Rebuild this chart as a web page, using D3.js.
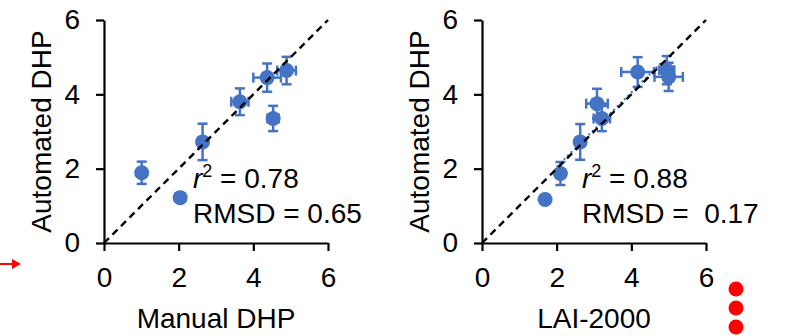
<!DOCTYPE html>
<html>
<head>
<meta charset="utf-8">
<script src="https://cdn.jsdelivr.net/npm/d3@7"></script>
<style>
  body { margin: 0; background: #fff; }
  svg { display: block; font-family: "Liberation Sans", Arial, sans-serif; }
</style>
</head>
<body>
<div class="container"></div>
<script>
// left panel: manual DHP vs automated DHP
var manualX    = [1.01, 2.04, 2.64, 3.64, 4.53, 4.37, 4.89];
var manualXErr = [0.05, 0.12, 0.12, 0.23, 0.15, 0.37, 0.25];
var manualY    = [1.89, 1.22, 2.72, 3.80, 3.35, 4.45, 4.64];
var manualYErr = [0.30, 0.08, 0.49, 0.36, 0.34, 0.38, 0.37];

// right panel: LAI-2000 vs automated DHP
var laiX    = [1.69, 2.10, 2.63, 3.08, 3.21, 4.17, 4.95, 5.00];
var laiXErr = [0.10, 0.10, 0.10, 0.29, 0.22, 0.44, 0.20, 0.38];
var laiY    = [1.17, 1.87, 2.72, 3.75, 3.35, 4.60, 4.65, 4.47];
var laiYErr = [0.08, 0.31, 0.48, 0.40, 0.34, 0.40, 0.38, 0.38];

// blue dotted trend line (right panel only)
var laiTrend = [[2.0, 2.05], [4.8, 4.85]];

var ticks = [0, 2, 4, 6];
var oneToOne = [[0, 0], [6, 6]];

const WIDTH = 805;
const HEIGHT = 336;
const BLUE = '#4472C4';
const FONT = 28;

var svg = d3.select('.container').append('svg')
  .attr('width', WIDTH)
  .attr('height', HEIGHT);

var panels = [
  {left: 104, xs: manualX, xe: manualXErr, ys: manualY, ye: manualYErr,
   xTitle: 'Manual DHP', r2: '0.78', rmsd: '0.65', trend: null},
  {left: 482, xs: laiX, xe: laiXErr, ys: laiY, ye: laiYErr,
   xTitle: 'LAI-2000', r2: '0.88', rmsd: ' 0.17', trend: laiTrend}
];

var drawPanel = function (p) {
  var x = d3.scaleLinear().domain([0, 6]).range([p.left, p.left + 224]);
  var y = d3.scaleLinear().domain([0, 6]).range([243, 20]);

  var g = svg.append('g');

  var xAxis = d3.axisBottom(x).tickValues(ticks).tickFormat(d3.format('d'))
    .tickSize(8).tickSizeOuter(0).tickPadding(16);
  var yAxis = d3.axisLeft(y).tickValues(ticks).tickFormat(d3.format('d'))
    .tickSize(8).tickSizeOuter(0).tickPadding(16);

  var gx = g.append('g').attr('transform', 'translate(0,' + y(0) + ')').call(xAxis);
  var gy = g.append('g').attr('transform', 'translate(' + x(0) + ',0)').call(yAxis);
  [gx, gy].forEach(function (a) {
    a.selectAll('path, line').attr('stroke', '#000').attr('stroke-width', 2.2);
    a.selectAll('text').attr('font-size', FONT).attr('fill', '#000')
      .attr('font-family', '"Liberation Sans", Arial, sans-serif');
  });

  g.append('text')
    .attr('x', (x(0) + x(6)) / 2)
    .attr('y', 328)
    .attr('text-anchor', 'middle')
    .attr('font-size', FONT)
    .text(p.xTitle);

  g.append('text')
    .attr('transform', 'translate(' + (x(0) - 53) + ',' + ((y(0) + y(6)) / 2) + ') rotate(-90)')
    .attr('text-anchor', 'middle')
    .attr('font-size', FONT)
    .text('Automated DHP');

  var pts = p.xs.map(function (v, i) {
    return {x: v, y: p.ys[i], xe: p.xe[i], ye: p.ye[i]};
  });

  if (p.trend) {
    g.append('path')
      .datum(p.trend)
      .attr('d', d3.line().x(function (d) { return x(d[0]); }).y(function (d) { return y(d[1]); }))
      .attr('stroke', BLUE)
      .attr('stroke-width', 2)
      .attr('stroke-dasharray', '2,3')
      .attr('fill', 'none');
  }

  var cap = 5;
  var eg = g.append('g').attr('stroke', BLUE).attr('stroke-width', 2.5);
  pts.forEach(function (d) {
    eg.append('line').attr('x1', x(d.x)).attr('x2', x(d.x)).attr('y1', y(d.y - d.ye)).attr('y2', y(d.y + d.ye));
    eg.append('line').attr('x1', x(d.x) - cap).attr('x2', x(d.x) + cap).attr('y1', y(d.y - d.ye)).attr('y2', y(d.y - d.ye));
    eg.append('line').attr('x1', x(d.x) - cap).attr('x2', x(d.x) + cap).attr('y1', y(d.y + d.ye)).attr('y2', y(d.y + d.ye));
    eg.append('line').attr('x1', x(d.x - d.xe)).attr('x2', x(d.x + d.xe)).attr('y1', y(d.y)).attr('y2', y(d.y));
    eg.append('line').attr('x1', x(d.x - d.xe)).attr('x2', x(d.x - d.xe)).attr('y1', y(d.y) - cap).attr('y2', y(d.y) + cap);
    eg.append('line').attr('x1', x(d.x + d.xe)).attr('x2', x(d.x + d.xe)).attr('y1', y(d.y) - cap).attr('y2', y(d.y) + cap);
  });

  g.selectAll('circle.pt')
    .data(pts)
    .enter().append('circle')
    .attr('class', 'pt')
    .attr('cx', function (d) { return x(d.x); })
    .attr('cy', function (d) { return y(d.y); })
    .attr('r', 7.5)
    .attr('fill', BLUE);

  // 1:1 line on top of the markers
  g.append('path')
    .datum(oneToOne)
    .attr('d', d3.line().x(function (d) { return x(d[0]); }).y(function (d) { return y(d[1]); }))
    .attr('stroke', '#000')
    .attr('stroke-width', 2.4)
    .attr('stroke-dasharray', '7,5')
    .attr('fill', 'none');

  var tx = x(0) + (p.trend ? 100 : 89);
  var t1 = g.append('text').attr('x', tx).attr('y', 188).attr('font-size', FONT);
  t1.append('tspan').attr('font-style', 'italic').text('r');
  t1.append('tspan').attr('font-size', 18).attr('dy', -11).text('2');
  t1.append('tspan').attr('dy', 11).text(' = ' + p.r2);

  g.append('text')
    .attr('x', tx)
    .attr('y', 223)
    .attr('font-size', FONT)
    .style('white-space', 'pre')
    .text('RMSD = ' + p.rmsd);
};

panels.forEach(drawPanel);

// red arrow at the left edge
svg.append('line').attr('x1', 0).attr('x2', 13).attr('y1', 264).attr('y2', 264)
  .attr('stroke', '#ff0000').attr('stroke-width', 2);
svg.append('path').attr('d', 'M12,259 L21,264 L12,269 Z').attr('fill', '#ff0000');

// red dots at the bottom right
svg.selectAll('circle.dot')
  .data([289, 308, 327])
  .enter().append('circle')
  .attr('class', 'dot')
  .attr('cx', 736)
  .attr('cy', function (d) { return d; })
  .attr('r', 7.5)
  .attr('fill', '#ff0000');
</script>
</body>
</html>
